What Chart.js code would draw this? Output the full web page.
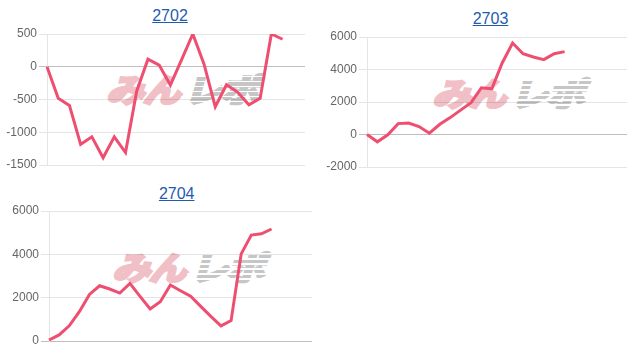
<!DOCTYPE html>
<html>
<head>
<meta charset="utf-8">
<script src="https://cdn.jsdelivr.net/npm/chart.js@4.4.1/dist/chart.umd.min.js"></script>
<style>
  html, body { margin: 0; padding: 0; background: #fff; }
  body { width: 638px; height: 354px; position: relative; overflow: hidden; font-family: "Liberation Sans", Arial, sans-serif; }
  .box { position: absolute; }
  .title { position: absolute; width: 120px; text-align: center; font-size: 16px; line-height: 16px; }
  .title a { color: #1f5bb0; text-decoration: underline; }
  .wm { position: absolute; white-space: nowrap; font-family: "Noto Sans CJK JP", sans-serif; font-weight: 700; font-size: 32px; line-height: 32px; transform-origin: left top; transform: scaleX(1.18) skewX(-14deg); z-index: 0; letter-spacing: -1px; }
  .wm .a { color: rgb(241, 192, 198); -webkit-text-stroke: 3px rgb(241, 192, 198); display: inline-block; }
  .wm .b { color: rgb(198, 198, 198); -webkit-text-stroke: 3px rgb(198, 198, 198); display: inline-block; position: relative; margin-left: 4px; }
  .wm .b::after { content: ''; position: absolute; left: -4px; right: -4px; top: 0; bottom: 0; background: repeating-linear-gradient(to bottom, rgba(255,255,255,0) 0px, rgba(255,255,255,0) 3.5px, #fff 3.5px, #fff 5px); }
  canvas { position: relative; z-index: 1; }
</style>
</head>
<body>
<script>
// ---- data ----
const titles = ['2702', '2703', '2704'];
const labels2702 = ['1','2','3','4','5','6','7','8','9','10','11','12','13','14','15','16','17','18','19','20','21','22','23','24'];
const values2702 = [0, -480, -590, -1185, -1070, -1390, -1070, -1310, -370, 115, 25, -280, 110, 500, 40, -610, -275, -390, -580, -480, 500, 420];
const labels2703 = ['1','2','3','4','5','6','7','8','9','10','11','12','13','14','15','16','17','18','19','20','21','22','23','24','25','26'];
const values2703 = [0, -450, -20, 670, 710, 490, 80, 630, 1040, 1500, 1960, 2870, 2810, 4400, 5630, 4970, 4770, 4610, 4970, 5100];
const labels2704 = ['1','2','3','4','5','6','7','8','9','10','11','12','13','14','15','16','17','18','19','20','21','22','23','24','25','26','27'];
const values2704 = [45, 280, 700, 1350, 2150, 2550, 2400, 2210, 2660, 2060, 1475, 1815, 2585, 2320, 2065, 1600, 1140, 700, 940, 4020, 4890, 4950, 5170];
const yMin = [-1500, -2000, 0];
const yMax = [500, 6000, 6000];
const yStep = [500, 2000, 2000];

// ---- layout (positions only) ----
const boxes = [
  { left: 0,   top: 26,  width: 309, height: 147, titleX: 170,   titleY: 8,   wmX: 115, wmY: 72 },
  { left: 320, top: 29,  width: 311, height: 146, titleX: 490.5, titleY: 11,  wmX: 441, wmY: 76 },
  { left: 2,   top: 203, width: 314, height: 146, titleX: 176.7, titleY: 186, wmX: 121, wmY: 250 }
];
const labelSets = [labels2702, labels2703, labels2704];
const valueSets = [values2702, values2703, values2704];

boxes.forEach((b, i) => {
  const t = document.createElement('div');
  t.className = 'title';
  t.style.left = (b.titleX - 60) + 'px';
  t.style.top = b.titleY + 'px';
  const a = document.createElement('a');
  a.href = '#';
  a.textContent = titles[i];
  t.appendChild(a);
  document.body.appendChild(t);

  const wm = document.createElement('div');
  wm.className = 'wm';
  wm.style.left = b.wmX + 'px';
  wm.style.top = b.wmY + 'px';
  wm.innerHTML = '<span class="a">みん</span><span class="b">レポ</span>';
  document.body.appendChild(wm);

  const box = document.createElement('div');
  box.className = 'box';
  box.style.left = b.left + 'px';
  box.style.top = b.top + 'px';
  box.style.width = b.width + 'px';
  box.style.height = b.height + 'px';
  box.style.zIndex = 1;
  const cv = document.createElement('canvas');
  box.appendChild(cv);
  document.body.appendChild(box);

  new Chart(cv, {
    type: 'line',
    data: {
      labels: labelSets[i],
      datasets: [{
        data: valueSets[i],
        borderColor: '#ee4f70',
        backgroundColor: '#ee4f70',
        borderWidth: 3,
        pointRadius: 0,
        pointHoverRadius: 0,
        tension: 0,
        fill: false
      }]
    },
    options: {
      responsive: true,
      maintainAspectRatio: false,
      animation: false,
      layout: { padding: { left: 0, top: 8, right: 4, bottom: 8 } },
      plugins: { legend: { display: false }, tooltip: { enabled: false }, title: { display: false } },
      scales: {
        x: { display: false },
        y: {
          min: yMin[i],
          max: yMax[i],
          ticks: {
            stepSize: yStep[i],
            color: '#666',
            padding: 2,
            font: { family: '"Liberation Sans", Arial, sans-serif', size: 12 },
            callback: (v) => String(v)
          },
          grid: {
            color: (c) => (c.tick && c.tick.value === 0) ? 'rgba(0,0,0,0.25)' : 'rgba(0,0,0,0.1)',
            tickLength: 8
          },
          border: { color: 'rgba(0,0,0,0.1)' },
          afterFit: (s) => { s.width = 47; s.paddingTop = 0; s.paddingBottom = 0; }
        }
      }
    }
  });
});
</script>
</body>
</html>
